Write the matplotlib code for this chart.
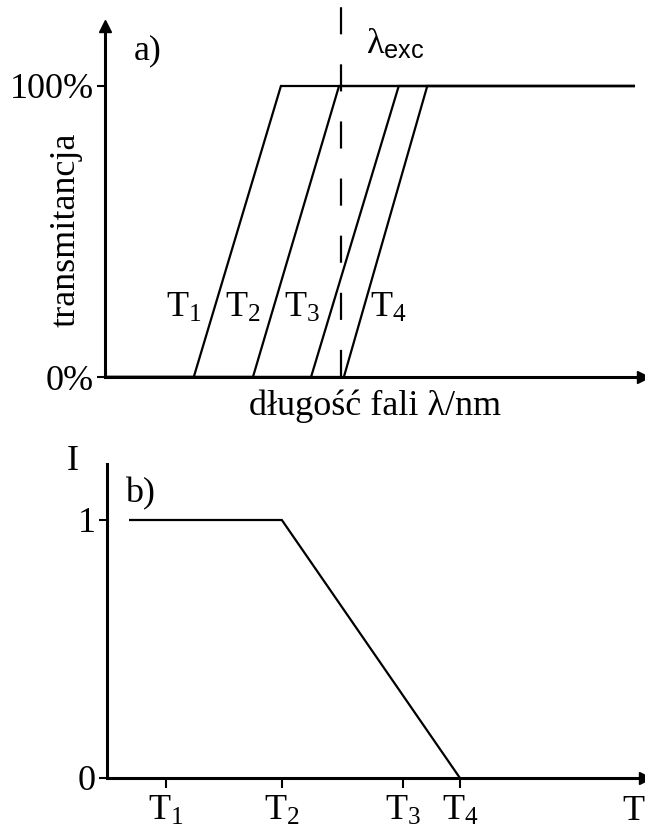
import matplotlib
matplotlib.use("Agg")
import matplotlib.pyplot as plt

plt.rcParams['font.family'] = ['Liberation Serif', 'DejaVu Serif']
plt.rcParams['mathtext.fontset'] = 'custom'
plt.rcParams['mathtext.rm'] = 'Liberation Serif'
plt.rcParams['mathtext.it'] = 'Liberation Serif:italic'
plt.rcParams['mathtext.sf'] = 'Liberation Sans'

# a) transmission edges of the filter at four temperatures
series_names = ['T$_1$', 'T$_2$', 'T$_3$', 'T$_4$']
edge_start = [16.5, 27.5, 38.3, 44.4]
edge_end = [32.7, 43.5, 54.6, 59.9]
wl_max = 98.3
lam_exc = 43.9
trans_ticks = [0, 100]
trans_labels = ['0%', '100%']

# b) intensity vs temperature
temp_ticks = [11.0, 32.5, 55.0, 65.6]
temp_labels = ['T$_1$', 'T$_2$', 'T$_3$', 'T$_4$']
curve_T = [4.3, 32.5, 65.6]
curve_I = [1, 1, 0]

W, H = 645, 834
FS = 26
LW = 1.6
AX_LW = 2.2


def rect(left, top, right, bottom):
    return [left / W, 1 - bottom / H, (right - left) / W, (bottom - top) / H]


def style_axes(ax):
    for s in ['top', 'right']:
        ax.spines[s].set_visible(False)
    for s in ['left', 'bottom']:
        ax.spines[s].set_linewidth(AX_LW)
    ax.tick_params(axis='y', direction='out', length=6, width=1.5, pad=2,
                   labelsize=FS)
    ax.patch.set_alpha(0)


fig = plt.figure(figsize=(W / 100, H / 100), dpi=100)

# panel a
ax = fig.add_axes(rect(105, 26, 643, 377))
style_axes(ax)
ax.set_xlim(0, 100)
ax.set_ylim(0, 100 * 351 / 291)
ax.set_xticks([])
ax.set_yticks(trans_ticks)
ax.set_yticklabels(trans_labels)

for i in range(len(edge_start)):
    ax.plot([0, edge_start[i], edge_end[i], wl_max], [0, 0, 100, 100],
            color='black', lw=LW, solid_joinstyle='miter')

# excitation wavelength, drawn upwards from the baseline
ax.plot([lam_exc, lam_exc], [0, 127], color='black', lw=1.6,
        dashes=(12.2, 13.5), dash_capstyle='butt', clip_on=False)

# arrow heads on the axes
ax.plot([1], [0], marker='>', ms=9, color='black',
        transform=ax.transAxes, clip_on=False)
ax.plot([0], [1], marker='^', ms=9, color='black',
        transform=ax.transAxes, clip_on=False)

label_x = [14.7, 25.7, 36.7, 52.7]
for x, name in zip(label_x, series_names):
    ax.text(x, 20.6, name, fontsize=FS, ha='center', va='baseline')

ax.text(5.3, 112, 'a)', fontsize=FS, ha='left', va='center')
ax.text(48.5, 114, r'λ$_{\mathsf{exc}}$', fontsize=FS, ha='left',
        va='center', clip_on=False)

fig.text(66 / W, 1 - 230 / H, 'transmitancja', fontsize=FS, rotation=90,
         ha='center', va='center')
fig.text(375 / W, 1 - 406 / H, 'długość fali λ/nm', fontsize=FS,
         ha='center', va='center')

# panel b
bx = fig.add_axes(rect(107, 464, 645, 778))
style_axes(bx)
bx.set_xlim(0, 100)
bx.set_ylim(0, 314 / 258)
bx.set_yticks([0, 1])
bx.set_yticklabels(['0', '1'])
bx.set_xticks(temp_ticks)
bx.set_xticklabels(temp_labels)
bx.tick_params(axis='x', direction='out', length=7, width=1.5, pad=5,
               labelsize=FS)

bx.plot(curve_T, curve_I, color='black', lw=LW, solid_joinstyle='miter')
bx.plot([1], [0], marker='>', ms=9, color='black',
        transform=bx.transAxes, clip_on=False)

bx.text(3.4, 1.1, 'b)', fontsize=FS, ha='left', va='center')
fig.text(73 / W, 1 - 462 / H, 'I', fontsize=FS, ha='center', va='center')
fig.text(633 / W, 1 - 812 / H, 'T', fontsize=FS, ha='center', va='center')

fig.savefig('out.png', dpi=100, facecolor='white')
